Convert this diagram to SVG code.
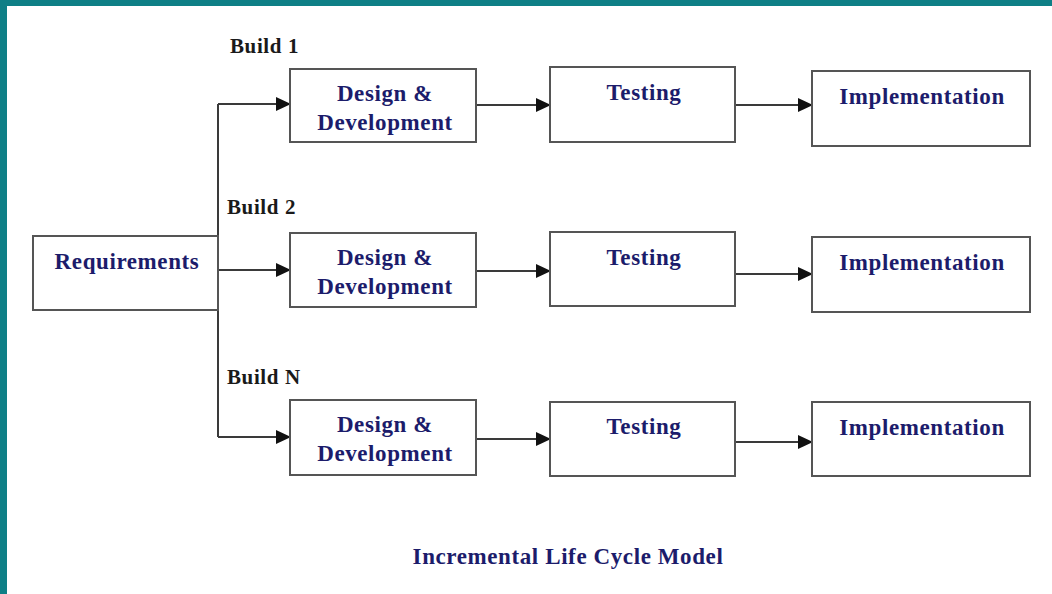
<svg xmlns="http://www.w3.org/2000/svg" width="1052" height="594" viewBox="0 0 1052 594">
<defs>
<style>
.box{fill:#fff;stroke:#555;stroke-width:2}
.t{font-family:"Liberation Serif","Times New Roman",serif;font-weight:bold;font-size:23px;letter-spacing:0.6px;fill:#1c1c6b;text-anchor:middle}
.b{font-family:"Liberation Serif","Times New Roman",serif;font-weight:bold;font-size:21px;letter-spacing:0.6px;fill:#1a1a1a}
.ln{fill:none;stroke:#3a3a3a;stroke-width:2}
</style>
<marker id="ah" markerWidth="15" markerHeight="16" refX="14" refY="8" orient="auto" markerUnits="userSpaceOnUse">
<path d="M0,1 L15,8 L0,15 Z" fill="#111"/>
</marker>
</defs>
<rect x="0" y="0" width="1052" height="594" fill="#fff"/>
<rect x="0" y="0" width="1052" height="6" fill="#0e7f86"/>
<rect x="0" y="0" width="7" height="594" fill="#0e7f86"/>

<g id="connectors">
<path class="ln" d="M218,104 V437"/>
<path class="ln" d="M218,104 H290" marker-end="url(#ah)"/>
<path class="ln" d="M218,270 H290" marker-end="url(#ah)"/>
<path class="ln" d="M218,437 H290" marker-end="url(#ah)"/>
<path class="ln" d="M476,105 H550" marker-end="url(#ah)"/>
<path class="ln" d="M735,105 H812" marker-end="url(#ah)"/>
<path class="ln" d="M476,271 H550" marker-end="url(#ah)"/>
<path class="ln" d="M735,274 H812" marker-end="url(#ah)"/>
<path class="ln" d="M476,439 H550" marker-end="url(#ah)"/>
<path class="ln" d="M735,442 H812" marker-end="url(#ah)"/>
</g>

<g id="requirements">
<rect class="box" x="33" y="236" width="185" height="74"/>
<text class="t" x="127" y="269">Requirements</text>
</g>

<g id="labels">
<text class="b" x="230" y="53">Build 1</text>
<text class="b" x="227" y="214">Build 2</text>
<text class="b" x="227" y="384">Build N</text>
</g>

<g id="dd1">
<rect class="box" x="290" y="69" width="186" height="73"/>
<text class="t" x="385" y="101">Design &amp;</text>
<text class="t" x="385" y="130">Development</text>
</g>
<g id="test1">
<rect class="box" x="550" y="67" width="185" height="75"/>
<text class="t" x="644" y="100">Testing</text>
</g>
<g id="impl1">
<rect class="box" x="812" y="71" width="218" height="75"/>
<text class="t" x="922" y="104">Implementation</text>
</g>

<g id="dd2">
<rect class="box" x="290" y="233" width="186" height="74"/>
<text class="t" x="385" y="265">Design &amp;</text>
<text class="t" x="385" y="294">Development</text>
</g>
<g id="test2">
<rect class="box" x="550" y="232" width="185" height="74"/>
<text class="t" x="644" y="265">Testing</text>
</g>
<g id="impl2">
<rect class="box" x="812" y="237" width="218" height="75"/>
<text class="t" x="922" y="270">Implementation</text>
</g>

<g id="dd3">
<rect class="box" x="290" y="400" width="186" height="75"/>
<text class="t" x="385" y="432">Design &amp;</text>
<text class="t" x="385" y="461">Development</text>
</g>
<g id="test3">
<rect class="box" x="550" y="402" width="185" height="74"/>
<text class="t" x="644" y="434">Testing</text>
</g>
<g id="impl3">
<rect class="box" x="812" y="402" width="218" height="74"/>
<text class="t" x="922" y="435">Implementation</text>
</g>

<g id="caption">
<text class="t" x="568" y="564">Incremental Life Cycle Model</text>
</g>
</svg>
